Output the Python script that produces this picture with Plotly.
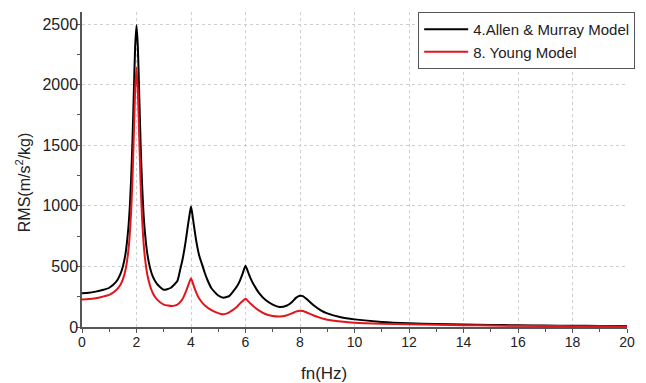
import plotly.graph_objects as go

freq_a = [0, 0.25, 0.5, 0.75, 1.0, 1.25, 1.4, 1.5, 1.6, 1.7, 1.75, 1.8, 1.85, 1.9, 1.95, 2.0, 2.05, 2.1, 2.15,
          2.2, 2.25, 2.3, 2.4, 2.5, 2.6, 2.75, 3.0, 3.25, 3.5, 3.6, 3.7, 3.8, 3.9, 3.95, 4.0, 4.05, 4.1, 4.2,
          4.3, 4.43, 4.5, 4.6, 4.75, 5.0, 5.2, 5.4, 5.5, 5.7, 5.8, 5.9, 6.0, 6.1, 6.2, 6.3, 6.5, 6.75, 7.0,
          7.25, 7.5, 7.7, 7.85, 8.0, 8.1, 8.25, 8.5, 8.75, 9.0, 9.5, 10, 11, 12, 13, 14, 15, 16, 17, 18, 19, 20]

allen_murray = [278, 282, 292, 305, 324, 372, 433, 500, 610, 815, 975, 1205, 1520, 1920, 2310, 2490, 2310, 1915,
                1515, 1200, 965, 805, 600, 485, 415, 355, 307, 322, 380, 470, 570, 700, 860, 930, 995, 930, 850,
                700, 590, 500, 450, 390, 320, 260, 242, 255, 280, 340, 385, 445, 505, 450, 395, 350, 280, 220,
                185, 165, 175, 205, 240, 258, 255, 230, 180, 140, 112, 80, 63, 42, 31, 25, 20, 17, 14, 12, 10, 9, 8]

freq_b = [0, 0.25, 0.5, 0.75, 1.0, 1.25, 1.4, 1.5, 1.6, 1.7, 1.75, 1.8, 1.85, 1.9, 1.95, 2.0, 2.05, 2.1, 2.15,
          2.2, 2.25, 2.3, 2.4, 2.5, 2.6, 2.75, 3.0, 3.3, 3.5, 3.6, 3.7, 3.8, 3.9, 4.0, 4.1, 4.2, 4.3, 4.5,
          4.75, 5.0, 5.15, 5.3, 5.5, 5.7, 5.8, 5.9, 6.0, 6.1, 6.2, 6.3, 6.5, 6.75, 7.0, 7.25, 7.5, 7.7, 7.85,
          8.0, 8.1, 8.25, 8.5, 8.75, 9.0, 9.5, 10, 11, 12, 13, 14, 15, 16, 17, 18, 19, 20]

young = [228, 231, 238, 250, 265, 303, 344, 393, 474, 627, 755, 942, 1211, 1574, 1955, 2140, 1945, 1560, 1190,
         917, 725, 592, 429, 338, 279, 228, 185, 173, 185, 205, 235, 285, 345, 402, 340, 280, 235, 180, 140,
         115, 105, 110, 135, 170, 195, 215, 234, 212, 190, 170, 135, 105, 90, 86, 95, 112, 127, 135, 132,
         120, 95, 75, 60, 46, 36, 27, 22, 18, 15, 12, 10, 9, 7, 6, 5]

series_names = ["4.Allen & Murray Model", "8. Young Model"]
x_title = "fn(Hz)"
y_title = "RMS(m/s<sup>2</sup>/kg)"

fig = go.Figure()
fig.add_trace(go.Scatter(x=freq_a, y=allen_murray, mode="lines", name=series_names[0],
                         line=dict(color="#000000", width=2, shape="spline", smoothing=0.5)))
fig.add_trace(go.Scatter(x=freq_b, y=young, mode="lines", name=series_names[1],
                         line=dict(color="#e0161c", width=2, shape="spline", smoothing=0.5)))

axis_common = dict(
    showline=True, linecolor="#555555", linewidth=1.5,
    ticks="outside", ticklen=4, tickwidth=1.2, tickcolor="#555555",
    showgrid=True, gridcolor="#cfcfcf", griddash="dot", gridwidth=1,
    zeroline=False, mirror=False, automargin=False,
)

# the page body adds an 8px offset, so the figure is sized to fill the remaining window
fig.update_layout(
    width=638, height=375,
    margin=dict(l=74, r=19, t=4, b=56),
    paper_bgcolor="white", plot_bgcolor="white",
    font=dict(family="Liberation Sans, Arial, sans-serif", color="#222222"),
    showlegend=True,
    legend=dict(
        x=1.015, y=1.0, xanchor="right", yanchor="top",
        bordercolor="#555555", borderwidth=1, bgcolor="white",
        font=dict(size=15, color="#222222"),
        itemwidth=44, tracegroupgap=0,
    ),
    xaxis=dict(
        range=[0, 20], dtick=2, tick0=0,
        tickfont=dict(size=14), ticklabelstandoff=-3,
        minor=dict(ticks="outside", ticklen=3, dtick=1, tickcolor="#555555", showgrid=False),
        **axis_common,
    ),
    yaxis=dict(
        range=[0, 2600], dtick=500, tick0=0,
        tickfont=dict(size=16), ticklabelstandoff=-5,
        minor=dict(ticks="outside", ticklen=3, dtick=250, tickcolor="#555555", showgrid=False),
        **axis_common,
    ),
    annotations=[
        dict(text=x_title, xref="paper", yref="paper", x=0.444, y=-0.149,
             xanchor="center", yanchor="middle", showarrow=False,
             font=dict(size=17, color="#222222")),
        dict(text=y_title, xref="paper", yref="paper", x=-0.108, y=0.46,
             xanchor="center", yanchor="middle", showarrow=False, textangle=-90,
             font=dict(size=16, color="#222222")),
    ],
)

fig.write_html("out.html")
